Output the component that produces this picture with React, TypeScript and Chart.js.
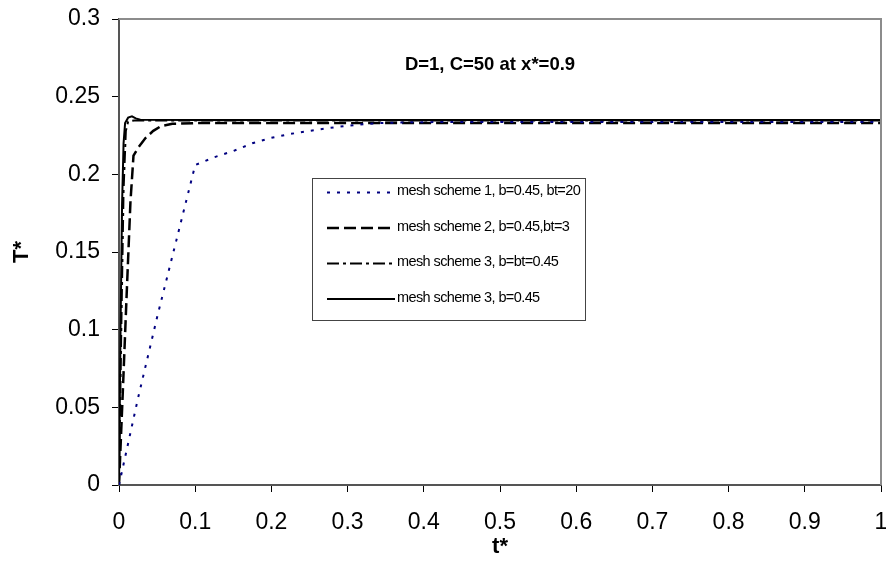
import { useEffect, useRef } from 'react';
import { Chart, registerables } from 'chart.js';

Chart.register(...registerables);

const FONT = "'Liberation Sans', Arial, Helvetica, sans-serif";

// ---------- texts ----------
const chartTitle = 'D=1, C=50 at x*=0.9';
const xAxisTitle = 't*';
const yAxisTitle = 'T*';

// ---------- axis ticks ----------
const xTickValues = [0, 0.1, 0.2, 0.3, 0.4, 0.5, 0.6, 0.7, 0.8, 0.9, 1];
const yTickValues = [0, 0.05, 0.1, 0.15, 0.2, 0.25, 0.3];

// ---------- series labels ----------
const seriesLabels = [
  'mesh scheme 1, b=0.45, bt=20',
  'mesh scheme 2, b=0.45,bt=3',
  'mesh scheme 3, b=bt=0.45',
  'mesh scheme 3, b=0.45',
];

// ---------- series data (t*, T*) ----------
const scheme1T = [0, 0.025, 0.05, 0.075, 0.1, 0.125, 0.15, 0.175, 0.2, 0.225, 0.25, 0.275, 0.3, 0.325, 0.35, 0.4, 0.5, 0.6, 0.7, 0.8, 0.9, 1];
const scheme1V = [0, 0.056, 0.108, 0.157, 0.206, 0.211, 0.215, 0.22, 0.2235, 0.226, 0.228, 0.2298, 0.2313, 0.2325, 0.2332, 0.2336, 0.2337, 0.2337, 0.2337, 0.2337, 0.2337, 0.2337];

const scheme2T = [0, 0.005, 0.01, 0.015, 0.019, 0.025, 0.035, 0.045, 0.055, 0.07, 0.1, 0.2, 0.4, 0.6, 0.8, 1];
const scheme2V = [0, 0.06, 0.122, 0.182, 0.212, 0.217, 0.2235, 0.228, 0.231, 0.2325, 0.233, 0.233, 0.233, 0.233, 0.233, 0.233];

const scheme3aT = [0, 0.003, 0.006, 0.009, 0.012, 0.02, 0.1, 0.3, 0.5, 0.7, 0.9, 1];
const scheme3aV = [0, 0.1, 0.19, 0.228, 0.234, 0.2347, 0.2347, 0.2347, 0.2347, 0.2347, 0.2347, 0.2347];

const scheme3bT = [0, 0.002, 0.004, 0.006, 0.008, 0.012, 0.017, 0.022, 0.028, 0.1, 0.3, 0.5, 0.7, 0.9, 1];
const scheme3bV = [0, 0.1, 0.18, 0.22, 0.233, 0.2365, 0.2373, 0.236, 0.2352, 0.235, 0.235, 0.235, 0.235, 0.235, 0.235];

const toPoints = (ts: number[], vs: number[]) => ts.map((t, i) => ({ x: t, y: vs[i] }));

const fmt = (v: number) => String(Math.round(v * 100) / 100);

const framePlugin = {
  id: 'frame',
  afterDraw(chart: any) {
    const { ctx, chartArea } = chart;
    ctx.save();
    ctx.strokeStyle = '#8c8c8c';
    ctx.lineWidth = 2;
    ctx.beginPath();
    ctx.moveTo(chartArea.left, chartArea.top);
    ctx.lineTo(chartArea.right, chartArea.top);
    ctx.lineTo(chartArea.right, chartArea.bottom);
    ctx.stroke();
    ctx.restore();
  },
};

const titlePlugin = {
  id: 'innerTitle',
  afterDraw(chart: any) {
    const { ctx } = chart;
    ctx.save();
    ctx.font = `bold 18.5px ${FONT}`;
    ctx.fillStyle = '#000';
    ctx.textAlign = 'center';
    ctx.textBaseline = 'middle';
    ctx.fillText(chartTitle, 490, 65);
    ctx.restore();
  },
};

const legendPlugin = {
  id: 'boxLegend',
  afterDraw(chart: any) {
    const { ctx } = chart;
    const bx = 312, by = 178, bw = 273, bh = 142;
    ctx.save();
    ctx.fillStyle = '#fff';
    ctx.fillRect(bx, by, bw, bh);
    ctx.strokeStyle = '#444';
    ctx.lineWidth = 1;
    ctx.strokeRect(bx + 0.5, by + 0.5, bw, bh);
    const rows = [191, 226.5, 262, 297.5];
    chart.data.datasets.forEach((ds: any, i: number) => {
      const y = rows[i];
      ctx.strokeStyle = ds.borderColor;
      ctx.lineWidth = ds.borderWidth;
      ctx.setLineDash(ds.borderDash || []);
      ctx.beginPath();
      ctx.moveTo(327, y + 1.5);
      ctx.lineTo(395, y + 1.5);
      ctx.stroke();
      ctx.setLineDash([]);
      ctx.fillStyle = '#000';
      ctx.font = `14.5px ${FONT}`;
      try { (ctx as any).letterSpacing = '-0.6px'; } catch (e) { /* ignore */ }
      ctx.textAlign = 'left';
      ctx.textBaseline = 'middle';
      ctx.fillText(ds.label, 397, y);
      try { (ctx as any).letterSpacing = '0px'; } catch (e) { /* ignore */ }
    });
    ctx.restore();
  },
};

export default function App() {
  const ref = useRef<HTMLCanvasElement | null>(null);

  useEffect(() => {
    document.body.style.margin = '0';
    const canvas = ref.current;
    if (!canvas) return;
    const chart = new Chart(canvas, {
      type: 'line',
      data: {
        datasets: [
          {
            label: seriesLabels[0],
            data: toPoints(scheme1T, scheme1V),
            borderColor: '#000080',
            borderWidth: 2,
            borderDash: [3, 7],
            pointRadius: 0,
            tension: 0,
            fill: false,
          },
          {
            label: seriesLabels[1],
            data: toPoints(scheme2T, scheme2V),
            borderColor: '#000000',
            borderWidth: 2.5,
            borderDash: [12, 5],
            pointRadius: 0,
            tension: 0,
            fill: false,
          },
          {
            label: seriesLabels[2],
            data: toPoints(scheme3aT, scheme3aV),
            borderColor: '#000000',
            borderWidth: 2,
            borderDash: [12, 4, 3, 4],
            pointRadius: 0,
            tension: 0,
            fill: false,
          },
          {
            label: seriesLabels[3],
            data: toPoints(scheme3bT, scheme3bV),
            borderColor: '#000000',
            borderWidth: 2,
            pointRadius: 0,
            tension: 0,
            fill: false,
          },
        ] as any,
      },
      options: {
        animation: false,
        responsive: false,
        maintainAspectRatio: false,
        layout: { padding: { top: 19, right: 5, left: 0, bottom: 0 } },
        plugins: {
          legend: { display: false },
          tooltip: { enabled: false },
          title: { display: false },
        },
        scales: {
          x: {
            type: 'linear',
            min: 0,
            max: 1,
            afterBuildTicks(scale: any) {
              scale.ticks = xTickValues.map((v) => ({ value: v }));
            },
            afterFit(scale: any) {
              scale.height = 95;
              scale.paddingLeft = 0;
              scale.paddingRight = 0;
            },
            ticks: {
              callback: (v: any) => fmt(Number(v)),
              font: { family: FONT, size: 23 },
              color: '#000',
              padding: 17,
              maxRotation: 0,
              autoSkip: false,
            },
            grid: {
              display: true,
              drawOnChartArea: false,
              drawTicks: true,
              tickLength: 7,
              tickColor: '#000',
              tickWidth: 1,
            },
            border: { display: true, color: '#555', width: 2 },
            title: {
              display: true,
              text: xAxisTitle,
              font: { family: FONT, size: 22, weight: 'bold' },
              color: '#000',
              padding: { top: 0, bottom: 20 },
            },
          },
          y: {
            type: 'linear',
            min: 0,
            max: 0.3,
            afterBuildTicks(scale: any) {
              scale.ticks = yTickValues.map((v) => ({ value: v }));
            },
            afterFit(scale: any) {
              scale.width = 119;
              scale.paddingTop = 0;
              scale.paddingBottom = 0;
            },
            ticks: {
              callback: (v: any) => fmt(Number(v)),
              font: { family: FONT, size: 23 },
              color: '#000',
              padding: 12,
              autoSkip: false,
            },
            grid: {
              display: true,
              drawOnChartArea: false,
              drawTicks: true,
              tickLength: 7,
              tickColor: '#000',
              tickWidth: 1,
            },
            border: { display: true, color: '#555', width: 2 },
            title: {
              display: true,
              text: yAxisTitle,
              font: { family: FONT, size: 22, weight: 'bold' },
              color: '#000',
              padding: { top: 9, bottom: 0 },
            },
          },
        },
      } as any,
      plugins: [framePlugin, titlePlugin, legendPlugin],
    });
    return () => chart.destroy();
  }, []);

  return (
    <div style={{ width: 886, height: 580 }}>
      <canvas ref={ref} width={886} height={580} style={{ display: 'block' }} />
    </div>
  );
}
